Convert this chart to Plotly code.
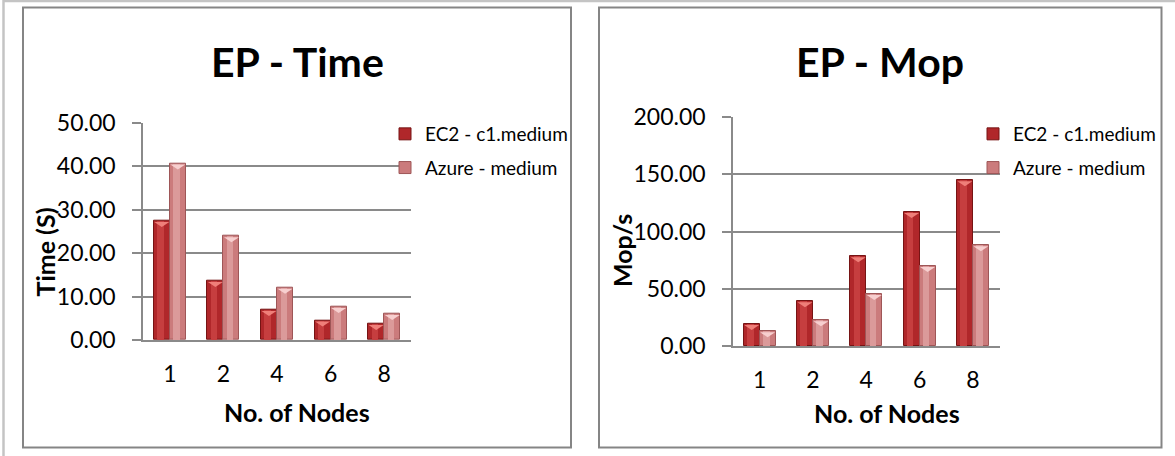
import plotly.graph_objects as go

# Node counts and measured results (NPB EP benchmark)
nodes = ["1", "2", "4", "6", "8"]
series_names = ["EC2 - c1.medium", "Azure - medium"]
ec2_time = [27.4, 13.6, 6.9, 4.5, 3.7]
azure_time = [40.6, 23.9, 12.0, 7.6, 6.0]
ec2_mop = [19.2, 39.0, 78.3, 117.0, 144.7]
azure_mop = [12.8, 22.4, 45.4, 69.9, 87.9]

W, H = 1175, 456
FONT = "Lato"
GRID = "#8a8a8a"


def fx(px):
    return px / W


def fy(py):
    return 1 - py / H


positions = list(range(len(nodes)))
BW = 0.3  # width of one bar in category units

styles = [
    dict(body="#b0272a", edge="#761414", hi="#c63e3f", top="#ef7f79"),
    dict(body="#cb7b7c", edge="#9e5657", hi="#db9a9a", top="#f7cfcf"),
]

fig = go.Figure()
shapes = []


def add_bars(values, k, xa, ya, legend):
    st = styles[k]
    off = -BW if k == 0 else 0.0
    group = f"{legend}-{k}"
    fig.add_trace(go.Bar(
        x=positions, y=values, width=BW, offset=off,
        name=series_names[k], legend=legend, legendgroup=group,
        marker=dict(color=st["body"], line=dict(color=st["edge"], width=1)),
        xaxis=xa, yaxis=ya, hoverinfo="y",
    ))
    # lighter centre stripe for a rounded look
    fig.add_trace(go.Bar(
        x=positions, y=values, width=BW * 0.4, offset=off + BW * 0.22,
        marker=dict(color=st["hi"], line=dict(width=0)),
        legend=legend, legendgroup=group,
        showlegend=False, hoverinfo="skip", xaxis=xa, yaxis=ya,
    ))
    # light bevel at the top of every bar
    for p, v in zip(positions, values):
        shapes.append(dict(
            type="path", xref=xa, yref=ya,
            xsizemode="pixel", ysizemode="pixel",
            xanchor=p + off + BW / 2, yanchor=v,
            path="M-7.5,-1 L7.5,-1 L0,-6 Z",
            fillcolor=st["top"], line=dict(width=0),
        ))


add_bars(ec2_time, 0, "x", "y", "legend")
add_bars(azure_time, 1, "x", "y", "legend")
add_bars(ec2_mop, 0, "x2", "y2", "legend2")
add_bars(azure_mop, 1, "x2", "y2", "legend2")

xcommon = dict(
    range=[-0.5, len(nodes) - 0.5], tickvals=positions, ticktext=nodes,
    showline=True, linecolor=GRID, linewidth=1.5, showgrid=False,
    zeroline=False, ticks="", tickfont=dict(family=FONT, size=23, color="black"),
    ticklabelstandoff=13, automargin=False, fixedrange=True,
)
ycommon = dict(
    tickformat=".2f", showgrid=True, gridcolor=GRID, gridwidth=1.5,
    showline=True, linecolor=GRID, linewidth=1.5, zeroline=False,
    ticks="outside", ticklen=9, tickcolor=GRID, tickwidth=1.5,
    tickfont=dict(family=FONT, size=23, color="black"),
    ticklabelstandoff=12, automargin=False, fixedrange=True,
)

legend_common = dict(
    font=dict(family=FONT, size=19, color="black"),
    bgcolor="rgba(0,0,0,0)", borderwidth=0,
    xanchor="left", yanchor="top", tracegroupgap=6,
    traceorder="grouped",
)

# outer page edge and the two chart frames
frames = [
    dict(type="line", x0=fx(3), x1=fx(W), y0=fy(1), y1=fy(1),
         line=dict(color="#c4c4c4", width=2.5)),
    dict(type="line", x0=fx(3.5), x1=fx(3.5), y0=fy(0), y1=fy(H),
         line=dict(color="#c4c4c4", width=2.5)),
    dict(type="rect", x0=fx(23), x1=fx(571), y0=fy(7.5), y1=fy(447.5),
         line=dict(color="#858585", width=2)),
    dict(type="rect", x0=fx(599), x1=fx(1161.5), y0=fy(7.5), y1=fy(447.5),
         line=dict(color="#858585", width=2)),
]
for s in frames:
    s.update(xref="paper", yref="paper", layer="below")

annotations = [
    dict(text="<b>EP - Time</b>", x=fx(297), y=fy(61)),
    dict(text="<b>EP - Mop</b>", x=fx(880), y=fy(61)),
]
for a in annotations:
    a.update(font=dict(family=FONT, size=41, color="black"))
axis_titles = [
    dict(text="<b>No. of Nodes</b>", x=fx(296.5), y=fy(412)),
    dict(text="<b>No. of Nodes</b>", x=fx(887), y=fy(413)),
    dict(text="<b>Time (S)</b>", x=fx(44.5), y=fy(252), textangle=-90),
    dict(text="<b>Mop/s</b>", x=fx(622), y=fy(251), textangle=-90),
]
for a in axis_titles:
    a.update(font=dict(family=FONT, size=25, color="black"))
annotations += axis_titles
for a in annotations:
    a.update(xref="paper", yref="paper", showarrow=False,
             xanchor="center", yanchor="middle")

fig.update_layout(
    width=W, height=H,
    margin=dict(l=0, r=0, t=0, b=0, autoexpand=False),
    paper_bgcolor="white", plot_bgcolor="rgba(0,0,0,0)",
    barmode="overlay", bargap=0,
    xaxis=dict(domain=[fx(143), fx(411)], anchor="y", **xcommon),
    yaxis=dict(domain=[fy(340), fy(122.7)], anchor="x", range=[0, 50],
               dtick=10, **ycommon),
    xaxis2=dict(domain=[fx(733), fx(999.5)], anchor="y2", **xcommon),
    yaxis2=dict(domain=[fy(346), fy(117)], anchor="x2", range=[0, 200],
                dtick=50, **ycommon),
    legend=dict(x=fx(385), y=fy(115), **legend_common),
    legend2=dict(x=fx(973), y=fy(115), **legend_common),
    shapes=frames + shapes,
    annotations=annotations,
    font=dict(family=FONT),
)

fig.write_html("out.html", config={"displayModeBar": False})
